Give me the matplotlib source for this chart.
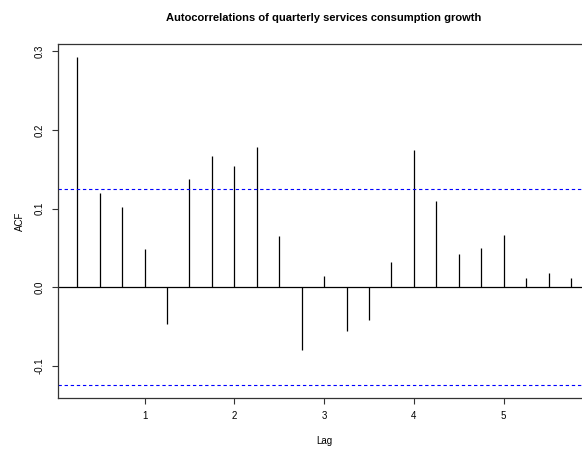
import matplotlib
matplotlib.use("Agg")
import matplotlib.pyplot as plt

# Sample autocorrelations, quarterly lags expressed in years
lags = [0.25, 0.50, 0.75, 1.00, 1.25, 1.50, 1.75, 2.00, 2.25, 2.50, 2.75,
        3.00, 3.25, 3.50, 3.75, 4.00, 4.25, 4.50, 4.75, 5.00, 5.25, 5.50, 5.75]
acf = [0.293, 0.120, 0.102, 0.049, -0.046, 0.138, 0.167, 0.154, 0.178, 0.065, -0.079,
       0.015, -0.055, -0.042, 0.032, 0.174, 0.110, 0.042, 0.050, 0.066, 0.012, 0.018, 0.012]
conf = 0.1247

xticks = [1, 2, 3, 4, 5]
yticks = [-0.1, 0.0, 0.1, 0.2, 0.3]

plt.rcParams["font.family"] = ["Liberation Sans", "DejaVu Sans"]

fig = plt.figure(figsize=(5.82, 4.49), dpi=100)
ax = fig.add_axes([0.0988, 0.1129, 0.9162, 0.7902])

ax.vlines(lags, 0, acf, color="black", lw=0.9)
ax.axhline(0, color="black", lw=0.9)
for c in (conf, -conf):
    ax.axhline(c, color="#0000ff", lw=0.8, ls=(0, (3, 2.5)))

ax.set_xlim(0.03, 5.97)
ax.set_ylim(-0.141, 0.310)
ax.set_xticks(xticks)
ax.set_xticklabels([str(t) for t in xticks])
ax.set_yticks(yticks)
ax.set_yticklabels([f"{t:.1f}" for t in yticks], rotation=90, va="center")
ax.tick_params(labelsize=7, length=4, width=0.8, color="#333333", pad=5)

for sp in ax.spines.values():
    sp.set_color("#333333")
    sp.set_linewidth(0.9)

ax.set_xlabel("Lag", fontsize=7, labelpad=11)
ax.set_ylabel("ACF", fontsize=7, labelpad=7)
ax.set_title("Autocorrelations of quarterly services consumption growth",
             fontsize=8, fontweight="bold", pad=16)

fig.savefig("out.png", dpi=100)
